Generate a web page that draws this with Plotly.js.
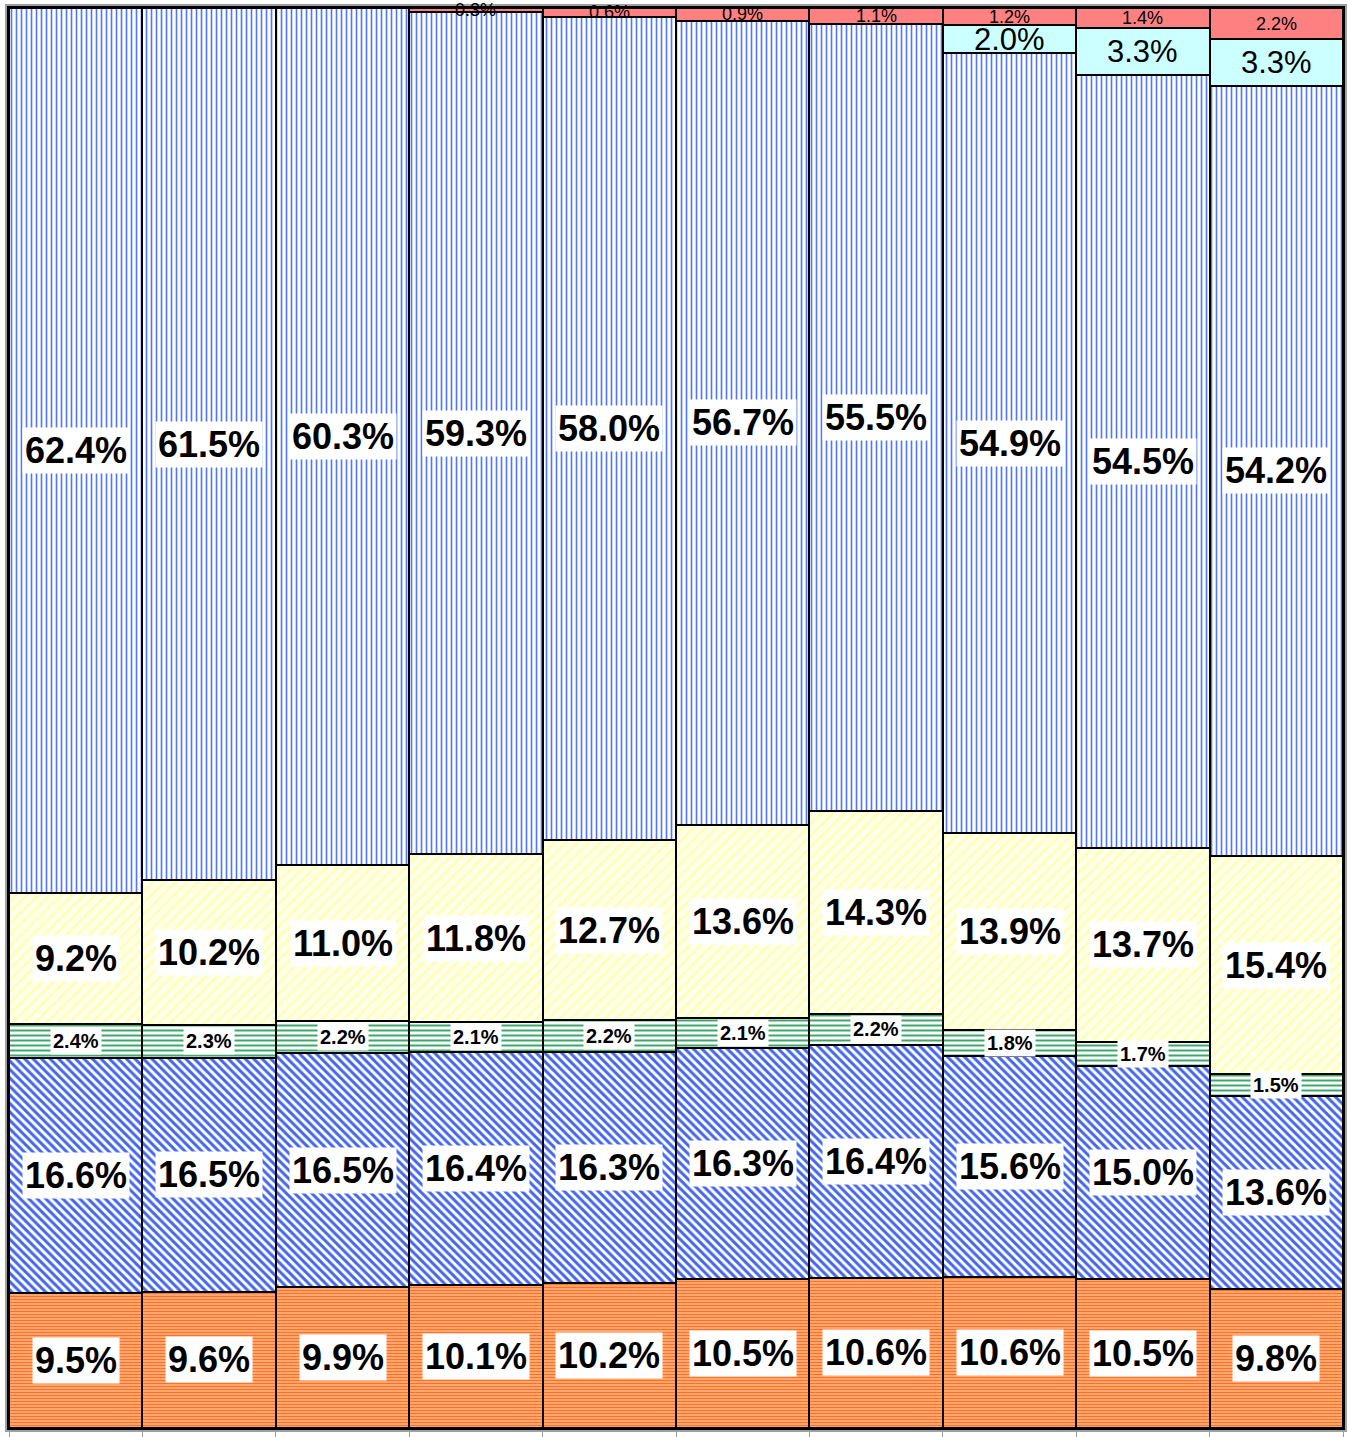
<!DOCTYPE html>
<html>
<head>
<meta charset="utf-8">
<script src="https://cdn.plot.ly/plotly-3.0.1.min.js"></script>
<style>html,body{margin:0;padding:0;background:#fff;}#chart{width:1348px;height:1437px;}</style>
</head>
<body>
<div id="chart"></div>
<script>
const categories = ["P1", "P2", "P3", "P4", "P5", "P6", "P7", "P8", "P9", "P10"];
const seriesA = [9.5, 9.6, 9.9, 10.1, 10.2, 10.5, 10.6, 10.6, 10.5, 9.8];
const seriesB = [16.6, 16.5, 16.5, 16.4, 16.3, 16.3, 16.4, 15.6, 15.0, 13.6];
const seriesC = [2.4, 2.3, 2.2, 2.1, 2.2, 2.1, 2.2, 1.8, 1.7, 1.5];
const seriesD = [9.2, 10.2, 11.0, 11.8, 12.7, 13.6, 14.3, 13.9, 13.7, 15.4];
const seriesE = [62.4, 61.5, 60.3, 59.3, 58.0, 56.7, 55.5, 54.9, 54.5, 54.2];
const seriesF = [0, 0, 0, 0, 0, 0, 0, 2.0, 3.3, 3.3];
const seriesG = [0, 0, 0, 0.3, 0.6, 0.9, 1.1, 1.2, 1.4, 2.2];

const FONT = "Liberation Sans, Arial, sans-serif";
const series = [
  {name: "A", y: seriesA, pattern: {shape: "-", bgcolor: "#FFD9BE", fgcolor: "#FF7020", size: 3, solidity: 0.65}, label: {size: 36, bold: true, bg: "white"}},
  {name: "B", y: seriesB, pattern: {shape: "\\", bgcolor: "#FFFFFF", fgcolor: "#4466EE", size: 6, solidity: 0.5}, label: {size: 36, bold: true, bg: "white"}},
  {name: "C", y: seriesC, pattern: {shape: "-", bgcolor: "#FFFFFF", fgcolor: "#3CA86A", size: 5, solidity: 0.4}, label: {size: 20, bold: true, bg: "white"}},
  {name: "D", y: seriesD, pattern: {shape: "/", bgcolor: "#FFFFEA", fgcolor: "#FFFFB0", size: 8, solidity: 0.3}, label: {size: 36, bold: true, bg: "white"}},
  {name: "E", y: seriesE, pattern: {shape: "|", bgcolor: "#FFFFFF", fgcolor: "#5277FF", size: 5, solidity: 0.33}, label: {size: 36, bold: true, bg: "white"}},
  {name: "F", y: seriesF, color: "#CCFFFF", label: {size: 31, bold: false, bg: null}},
  {name: "G", y: seriesG, color: "#FF8080", label: {size: 18, bold: false, bg: null}}
];

const totals = categories.map((c, i) => series.reduce((s, t) => s + t.y[i], 0));

const traces = series.map(s => ({
  type: "bar",
  name: s.name,
  x: categories,
  y: s.y,
  marker: s.pattern
    ? {color: s.pattern.bgcolor, pattern: Object.assign({fillmode: "replace"}, s.pattern), line: {color: "#000", width: 2}}
    : {color: s.color, line: {color: "#000", width: 2}},
  hoverinfo: "skip"
}));

const annotations = [];
const base = categories.map(() => 0);
series.forEach(s => {
  s.y.forEach((v, i) => {
    if (v > 0) {
      const mid = (base[i] + v / 2) / totals[i] * 100;
      const txt = v.toFixed(1) + "%";
      annotations.push({
        x: i, y: mid, xref: "x", yref: "y",
        text: s.label.bold ? "<b>" + txt + "</b>" : txt,
        showarrow: false,
        font: {family: FONT, size: s.label.size, color: "#000"},
        bgcolor: s.label.bg || "rgba(0,0,0,0)",
        borderpad: s.label.bg ? 2 : 0
      });
    }
    base[i] += v;
  });
});

const layout = {
  width: 1348, height: 1437,
  margin: {l: 9, r: 5, t: 8, b: 9, pad: 0},
  paper_bgcolor: "#FFFFFF",
  plot_bgcolor: "#FFFFFF",
  barmode: "stack",
  barnorm: "percent",
  bargap: 0,
  showlegend: false,
  font: {family: FONT},
  xaxis: {
    type: "category", range: [-0.5, 9.5], showticklabels: false,
    ticks: "outside", tickson: "boundaries", ticklen: 9, tickcolor: "#999", tickwidth: 1,
    showline: true, mirror: true, linecolor: "#000", linewidth: 2, showgrid: false, zeroline: false
  },
  yaxis: {
    range: [0, 100], showticklabels: false, ticks: "",
    showline: true, mirror: true, linecolor: "#000", linewidth: 2, showgrid: false, zeroline: false
  },
  shapes: [
    {type: "rect", xref: "paper", yref: "paper", x0: 0, x1: 1, y0: 0, y1: 1, layer: "below",
     line: {color: "#A0A0A0", width: 8}, fillcolor: "rgba(0,0,0,0)"}
  ],
  annotations: annotations
};

Plotly.newPlot("chart", traces, layout, {displayModeBar: false, staticPlot: true});
</script>
</body>
</html>
